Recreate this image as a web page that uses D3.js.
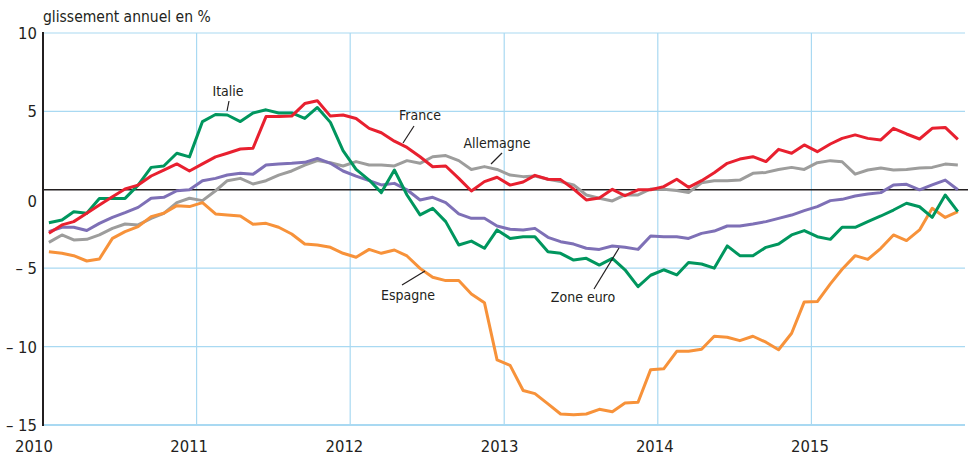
<!DOCTYPE html>
<html>
<head>
<meta charset="utf-8">
<script src="https://cdn.jsdelivr.net/npm/d3@7"></script>
<style>
  body { margin: 0; background: #fff; }
  svg text { font-family: "DejaVu Sans Condensed", "Liberation Sans Narrow", sans-serif; fill: #231f20; }
</style>
</head>
<body>
<svg width="968" height="459"></svg>
<script>
// glissement annuel en %, mensuel jan 2010 - dec 2015
var years = [2010, 2011, 2012, 2013, 2014, 2015];
var yTicks = [10, 5, 0, -5, -10, -15];

var italie = [-2.1,-1.93,-1.4,-1.5,-0.55,-0.55,-0.55,0.3,1.43,1.52,2.33,2.1,
  4.35,4.8,4.77,4.35,4.9,5.1,4.9,4.9,4.55,5.25,4.3,2.5,
  1.3,0.62,-0.18,1.26,-0.33,-1.6,-1.18,-2.03,-3.52,-3.27,-3.73,-2.56,
  -3.1,-2.99,-2.99,-3.95,-4.05,-4.48,-4.37,-4.8,-4.37,-5.1,-6.18,-5.45,
  -5.1,-5.43,-4.64,-4.73,-5.0,-3.58,-4.2,-4.2,-3.67,-3.46,-2.88,-2.6,
  -2.99,-3.16,-2.39,-2.39,-2.03,-1.67,-1.29,-0.86,-1.08,-1.76,-0.33,-1.39];

var france = [-2.77,-2.24,-2.03,-1.5,-0.97,-0.44,0.05,0.3,0.88,1.26,1.65,1.2,
  1.65,2.1,2.33,2.6,2.65,4.67,4.67,4.7,5.5,5.68,4.7,4.77,
  4.55,3.92,3.64,3.1,2.7,2.11,1.47,1.52,0.73,-0.08,0.52,0.8,
  0.3,0.5,0.92,0.67,0.65,0.05,-0.65,-0.52,0.03,-0.38,0,0,
  0.2,0.67,0.16,0.58,1.09,1.69,1.96,2.11,1.8,2.58,2.33,2.86,
  2.43,2.92,3.28,3.5,3.28,3.18,3.92,3.56,3.24,3.92,3.98,3.22];

var zoneEuro = [-2.67,-2.39,-2.39,-2.6,-2.14,-1.76,-1.46,-1.12,-0.54,-0.48,-0.06,0,
  0.58,0.73,0.94,1.05,0.99,1.58,1.65,1.69,1.75,2.0,1.69,1.2,
  0.87,0.58,0.31,0.41,0,-0.65,-0.48,-0.82,-1.54,-1.82,-1.82,-2.31,
  -2.52,-2.56,-2.46,-3.03,-3.31,-3.46,-3.73,-3.8,-3.58,-3.67,-3.8,-2.95,
  -2.99,-2.99,-3.1,-2.78,-2.63,-2.31,-2.31,-2.18,-2.03,-1.82,-1.61,-1.33,
  -1.07,-0.69,-0.61,-0.4,-0.27,-0.18,0.31,0.35,0,0.31,0.62,0];

var allemagne = [-3.35,-2.88,-3.2,-3.16,-2.88,-2.46,-2.18,-2.24,-1.82,-1.5,-0.82,-0.54,
  -0.69,-0.06,0.58,0.73,0.37,0.58,0.94,1.2,1.58,1.86,1.73,1.52,
  1.8,1.58,1.58,1.52,1.86,1.69,2.11,2.18,1.86,1.3,1.48,1.3,
  0.94,0.84,0.88,0.67,0.52,0.31,-0.33,-0.54,-0.71,-0.33,-0.33,0.05,
  0.03,-0.05,-0.18,0.45,0.58,0.58,0.62,1.05,1.11,1.3,1.43,1.3,
  1.73,1.86,1.79,1.0,1.26,1.39,1.26,1.3,1.39,1.43,1.64,1.58];

var espagne = [-3.95,-4.05,-4.2,-4.54,-4.41,-3.1,-2.67,-2.35,-1.71,-1.5,-1.01,-1.07,
  -0.82,-1.54,-1.61,-1.67,-2.2,-2.14,-2.39,-2.82,-3.46,-3.52,-3.67,-4.05,
  -4.3,-3.8,-4.05,-3.84,-4.22,-5.01,-5.58,-5.79,-5.79,-6.64,-7.2,-10.85,
  -11.2,-12.8,-13.0,-13.65,-14.3,-14.35,-14.3,-14.0,-14.15,-13.6,-13.55,-11.47,
  -11.42,-10.3,-10.3,-10.17,-9.34,-9.4,-9.62,-9.34,-9.72,-10.2,-9.15,-7.15,
  -7.13,-6.0,-5.07,-4.2,-4.44,-3.73,-2.88,-3.24,-2.56,-1.18,-1.76,-1.39];

var months = d3.timeMonth.range(new Date(2010, 0, 1), new Date(2016, 0, 1));

var series = [
  { name: "Allemagne", values: allemagne, color: "#9d9d9c" },
  { name: "Espagne", values: espagne, color: "#f7923a" },
  { name: "Zone euro", values: zoneEuro, color: "#7e70b6" },
  { name: "Italie", values: italie, color: "#00965e" },
  { name: "France", values: france, color: "#e8202f" }
];

// label position + leader line end points (pixels)
var notes = [
  { text: "Italie", x: 228, y: 96, l: [229, 101, 227, 111] },
  { text: "France", x: 420, y: 120, l: [414, 126, 403, 143] },
  { text: "Allemagne", x: 497, y: 148, l: [502, 153, 491, 164] },
  { text: "Espagne", x: 408, y: 300, l: [402, 285, 425, 271] },
  { text: "Zone euro", x: 583, y: 302, l: [594, 289, 619, 248] }
];

var svg = d3.select("svg");
var mLeft = 43, mRight = 965, mTop = 33, mBottom = 425;

var x = d3.scaleTime()
  .domain([new Date(2010, 0, 1), new Date(2016, 0, 1)])
  .range([mLeft, mRight]);
var y = d3.scaleLinear().domain([-15, 10]).range([mBottom, mTop]);
var xLabel = d3.scaleLinear().domain([2010, 2015]).range([34, 810]);

var mid = function(d) { return new Date(d.getFullYear(), d.getMonth(), 15); };

// grid
svg.append("g").selectAll("line")
  .data(yTicks.filter(function(t) { return t !== 0; }))
  .enter().append("line")
  .attr("x1", mLeft).attr("x2", mRight)
  .attr("y1", function(d) { return y(d); }).attr("y2", function(d) { return y(d); })
  .attr("stroke", "#a9d9f2")
  .attr("stroke-width", function(d) { return d === -15 ? 2 : 1.2; });

svg.append("g").selectAll("line")
  .data(years.slice(1))
  .enter().append("line")
  .attr("x1", function(d) { return x(new Date(d, 0, 1)); })
  .attr("x2", function(d) { return x(new Date(d, 0, 1)); })
  .attr("y1", mTop).attr("y2", mBottom)
  .attr("stroke", "#a9d9f2")
  .attr("stroke-width", 1.2);

// zero line
svg.append("line")
  .attr("x1", mLeft).attr("x2", 968)
  .attr("y1", y(0)).attr("y2", y(0))
  .attr("stroke", "#231f20").attr("stroke-width", 1.6);

// left axis
svg.append("line")
  .attr("x1", mLeft).attr("x2", mLeft)
  .attr("y1", mTop - 1).attr("y2", mBottom + 1)
  .attr("stroke", "#231f20").attr("stroke-width", 2);

// tick labels
svg.append("g").selectAll("text")
  .data(yTicks)
  .enter().append("text")
  .attr("x", 37)
  .attr("y", function(d) { return y(d) + (d === 0 ? 17 : 6); })
  .attr("text-anchor", "end")
  .attr("font-size", 16.5)
  .text(function(d) { return d < 0 ? "\u2013 " + Math.abs(d) : d; });

svg.append("g").selectAll("text")
  .data(years)
  .enter().append("text")
  .attr("x", function(d) { return xLabel(d); })
  .attr("y", 452)
  .attr("text-anchor", "middle")
  .attr("font-size", 16.5)
  .text(function(d) { return d; });

svg.append("text")
  .attr("x", 43).attr("y", 22)
  .attr("font-size", 15.5)
  .text("glissement annuel en %");

// lines
var line = d3.line()
  .x(function(d) { return x(mid(d.date)); })
  .y(function(d) { return y(d.value); });

svg.append("g").selectAll("path")
  .data(series)
  .enter().append("path")
  .attr("d", function(s) {
    return line(s.values.map(function(v, i) { return { date: months[i], value: v }; }));
  })
  .attr("fill", "none")
  .attr("stroke", function(s) { return s.color; })
  .attr("stroke-width", 3)
  .attr("stroke-linejoin", "round");

// annotations
var ann = svg.append("g").selectAll("g").data(notes).enter().append("g");
ann.append("line")
  .attr("x1", function(d) { return d.l[0]; }).attr("y1", function(d) { return d.l[1]; })
  .attr("x2", function(d) { return d.l[2]; }).attr("y2", function(d) { return d.l[3]; })
  .attr("stroke", "#231f20").attr("stroke-width", 1.2);
ann.append("text")
  .attr("x", function(d) { return d.x; })
  .attr("y", function(d) { return d.y; })
  .attr("text-anchor", "middle")
  .attr("font-size", 14)
  .text(function(d) { return d.text; });
</script>
</body>
</html>
